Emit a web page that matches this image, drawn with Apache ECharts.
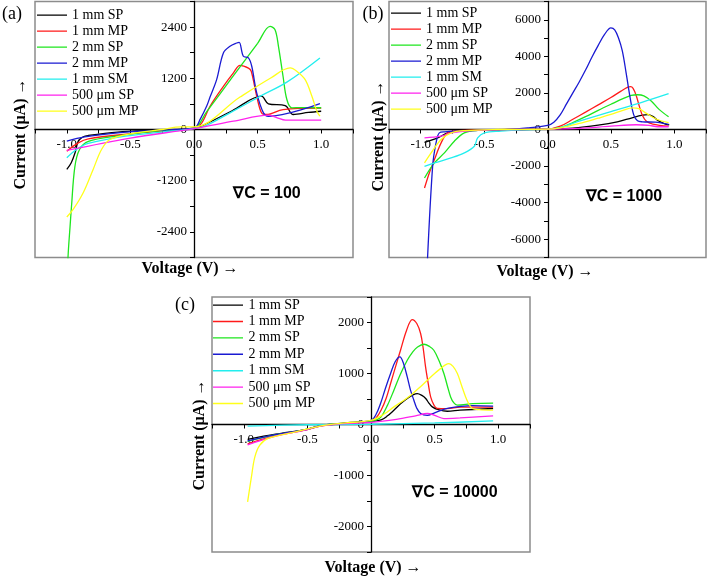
<!DOCTYPE html>
<html><head><meta charset="utf-8">
<script src="https://cdn.jsdelivr.net/npm/echarts@6/dist/echarts.min.js"></script>
<style>html,body{margin:0;padding:0;background:#fff}#c{width:709px;height:578px}</style>
</head><body><div id="c"></div>
<script>
// ---- legend / series names ----
const NAMES = ['1 mm SP','1 mm MP','2 mm SP','2 mm MP','1 mm SM','500 μm SP','500 μm MP'];
// ---- tick labels ----
const X_TICKS = [-1.0,-0.5,0.0,0.5,1.0];
const Y_TICKS_A = [-2400,-1200,0,1200,2400];
const Y_TICKS_B = [-6000,-4000,-2000,0,2000,4000,6000];
const Y_TICKS_C = [-2000,-1000,0,1000,2000];

// ---- panel (a): ∇C = 100 ----  [voltage V, current μA]
const A_1MM_SP = [[-1.0,-936],[-0.965,-780],[-0.935,-546],[-0.91,-273],[-0.87,-170],[-0.83,-140],[-0.6,-62],[-0.3,-15],[0,30],[0.1,140],[0.3,440],[0.53,780],[0.585,601],[0.717,562],[0.78,351],[0.9,400],[1.0,428]];
const A_1MM_MP = [[-1.0,-507],[-0.91,-312],[-0.83,-218],[-0.5,-100],[-0.2,-20],[0,30],[0.06,150],[0.126,545],[0.231,1013],[0.31,1327],[0.362,1505],[0.428,1440],[0.45,1365],[0.493,780],[0.533,380],[0.57,351],[0.7,468],[1.0,500]];
const A_2MM_SP = [[-1.0,-3800],[-0.99,-2965],[-0.975,-2300],[-0.963,-1800],[-0.937,-880],[-0.9,-470],[-0.83,-280],[-0.6,-150],[-0.3,-40],[0,30],[0.1,420],[0.3,1220],[0.5,2020],[0.598,2417],[0.637,2340],[0.664,1950],[0.7,1248],[0.73,702],[0.769,507],[0.85,515],[1.0,510]];
const A_2MM_MP = [[-1.0,-273],[-0.86,-172],[-0.6,-78],[-0.3,-20],[0,30],[0.05,250],[0.1,550],[0.126,760],[0.178,1170],[0.231,1794],[0.283,1950],[0.336,2028],[0.355,2043],[0.388,1716],[0.428,1678],[0.454,1482],[0.493,858],[0.546,390],[0.585,311],[0.99,608]];
const A_1MM_SM = [[-1.0,-663],[-0.924,-468],[-0.832,-328],[-0.54,-156],[-0.25,-60],[0,20],[0.1,100],[0.3,420],[0.533,800],[0.73,1110],[0.99,1678]];
const A_500_SP = [[-1.0,-490],[-0.5,-200],[0,20],[0.31,195],[0.585,335],[0.65,280],[0.72,218],[1.0,218]];
const A_500_MP = [[-1.0,-2050],[-0.95,-1872],[-0.871,-1482],[-0.793,-936],[-0.727,-468],[-0.661,-234],[-0.5,-100],[-0.25,0],[-0.1,60],[0,60],[0.362,760],[0.6,1200],[0.756,1444],[0.808,1365],[0.874,1170],[0.927,780],[0.966,429],[0.99,311]];

// ---- panel (b): ∇C = 1000 ----
const B_1MM_SP = [[-0.97,-700],[-0.866,-458],[-0.787,-183],[-0.7,-80],[-0.5,-30],[-0.2,0],[0,20],[0.2,80],[0.4,240],[0.55,420],[0.667,640],[0.75,780],[0.79,810],[0.83,720],[0.87,500],[0.92,320],[0.96,250]];
const B_1MM_MP = [[-0.97,-3200],[-0.932,-2377],[-0.892,-1647],[-0.839,-730],[-0.787,-183],[-0.7,-60],[-0.4,-10],[0,20],[0.1,180],[0.2,560],[0.3,950],[0.4,1350],[0.5,1750],[0.58,2100],[0.63,2300],[0.655,2340],[0.675,2250],[0.7,1850],[0.725,1250],[0.75,750],[0.78,450],[0.83,300],[0.955,180]];
const B_2MM_SP = [[-0.97,-2652],[-0.892,-1830],[-0.813,-1281],[-0.735,-640],[-0.656,-183],[-0.55,-50],[-0.3,0],[0,20],[0.1,100],[0.2,380],[0.3,700],[0.4,1050],[0.5,1380],[0.6,1700],[0.66,1860],[0.71,1900],[0.76,1840],[0.82,1550],[0.88,1100],[0.955,700]];
const B_2MM_MP = [[-0.95,-7640],[-0.906,-2015],[-0.879,-730],[-0.853,-183],[-0.81,-128],[-0.6,-60],[-0.3,0],[-0.15,90],[0,220],[0.05,400],[0.1,800],[0.15,1400],[0.2,2000],[0.25,2600],[0.3,3250],[0.35,3950],[0.4,4600],[0.45,5200],[0.5,5560],[0.53,5450],[0.56,5000],[0.59,4300],[0.62,3100],[0.65,1800],[0.68,800],[0.71,480],[0.75,420],[0.85,400],[0.955,280]];
const B_1MM_SM = [[-0.97,-2015],[-0.892,-1830],[-0.761,-1556],[-0.656,-1281],[-0.577,-915],[-0.551,-458],[-0.498,-183],[-0.367,-90],[-0.2,-20],[0,20],[0.1,100],[0.25,456],[0.5,980],[0.75,1500],[0.955,1960]];
const B_500_SP = [[-0.97,-458],[-0.839,-366],[-0.76,-183],[-0.6,-60],[-0.3,0],[0,20],[0.25,60],[0.5,180],[0.7,260],[0.8,230],[0.87,150],[0.955,150]];
const B_500_MP = [[-0.97,-1830],[-0.918,-1281],[-0.839,-549],[-0.76,-183],[-0.65,-60],[-0.4,0],[0,20],[0.1,90],[0.25,330],[0.4,620],[0.5,823],[0.6,1060],[0.67,1180],[0.72,1140],[0.78,880],[0.86,560],[0.955,380]];

// ---- panel (c): ∇C = 10000 ----
const C_1MM_SP = [[-0.97,-290],[-0.75,-190],[-0.5,-90],[-0.4,-20],[-0.2,30],[0,60],[0.08,90],[0.13,170],[0.18,280],[0.23,400],[0.285,510],[0.33,580],[0.364,607],[0.4,570],[0.43,510],[0.455,420],[0.482,345],[0.53,290],[0.6,260],[0.7,280],[0.96,314]];
const C_1MM_MP = [[-0.97,-380],[-0.75,-220],[-0.5,-100],[-0.4,-30],[-0.2,20],[0,60],[0.04,130],[0.079,280],[0.12,520],[0.154,804],[0.195,1150],[0.232,1456],[0.28,1850],[0.324,2058],[0.36,1980],[0.39,1784],[0.41,1500],[0.429,1129],[0.45,800],[0.469,541],[0.495,380],[0.521,314],[0.6,310],[0.7,340],[0.96,340]];
const C_2MM_SP = [[-0.97,-330],[-0.75,-200],[-0.5,-95],[-0.4,-25],[-0.2,25],[0,60],[0.04,90],[0.079,150],[0.13,380],[0.18,672],[0.23,980],[0.285,1260],[0.33,1430],[0.366,1521],[0.416,1574],[0.46,1530],[0.494,1456],[0.535,1250],[0.573,1000],[0.6,760],[0.626,541],[0.65,430],[0.679,378],[0.8,410],[0.96,420]];
const C_2MM_MP = [[-0.97,-320],[-0.75,-200],[-0.5,-95],[-0.4,-25],[-0.2,25],[0,80],[0.04,200],[0.075,412],[0.115,720],[0.154,1000],[0.19,1230],[0.227,1325],[0.255,1200],[0.285,933],[0.31,680],[0.337,476],[0.36,320],[0.39,216],[0.442,180],[0.5,230],[0.6,314],[0.8,370],[0.96,359]];
const C_1MM_SM = [[-0.97,-30],[-0.5,-5],[0,5],[0.5,30],[0.96,70]];
const C_500_SP = [[-0.97,-400],[-0.75,-230],[-0.5,-100],[-0.4,-30],[-0.2,20],[0,40],[0.2,100],[0.35,170],[0.443,216],[0.5,180],[0.573,117],[0.7,130],[0.96,169]];
const C_500_MP = [[-0.97,-1517],[-0.94,-1027],[-0.913,-635],[-0.874,-406],[-0.809,-274],[-0.6,-150],[-0.4,-30],[-0.2,30],[0,80],[0.1,200],[0.18,345],[0.25,460],[0.313,574],[0.38,720],[0.443,868],[0.5,1000],[0.547,1097],[0.585,1170],[0.613,1195],[0.645,1140],[0.679,1000],[0.71,780],[0.744,541],[0.77,400],[0.797,314],[0.85,290],[0.96,280]];

const PANEL_A = [A_1MM_SP,A_1MM_MP,A_2MM_SP,A_2MM_MP,A_1MM_SM,A_500_SP,A_500_MP];
const PANEL_B = [B_1MM_SP,B_1MM_MP,B_2MM_SP,B_2MM_MP,B_1MM_SM,B_500_SP,B_500_MP];
const PANEL_C = [C_1MM_SP,C_1MM_MP,C_2MM_SP,C_2MM_MP,C_1MM_SM,C_500_SP,C_500_MP];

const COLORS = ['#000000','#ff1a1a','#1ee61e','#1a1ad2','#22eeee','#ff22ee','#ffff1a'];
const SERIF = 'Liberation Serif';
const SANS = 'Liberation Sans';

const chart = echarts.init(document.getElementById('c'), null, {renderer:'canvas'});

const grids = [
  {left:35, top:1.5, width:318, height:256},
  {left:389, top:1.5, width:318, height:256},
  {left:212, top:297, width:318, height:255}
];
const X_RANGE = [-1.25, 1.25, 0.25];
const yRanges = [[-3000,3000,600,Y_TICKS_A],[-7000,7000,1000,Y_TICKS_B],[-2500,2500,500,Y_TICKS_C]];

function near(v, list){ return list.some(t => Math.abs(t - v) < 1e-6); }

// the axes are drawn through the origin: shift them inward by the pixel distance to zero
const xAxes = grids.map((g,i)=>({
  type:'value', gridIndex:i, min:X_RANGE[0], max:X_RANGE[1], interval:X_RANGE[2],
  position:'bottom',
  offset: -g.height * (0 - yRanges[i][0]) / (yRanges[i][1] - yRanges[i][0]),
  axisLine:{onZero:false, lineStyle:{color:'#000', width:1.3}},
  axisTick:{show:true, inside:false, length:4, lineStyle:{color:'#000'}},
  splitLine:{show:false},
  axisLabel:{fontFamily:SERIF, fontSize:13, color:'#000', margin:9,
    formatter:v => near(v, X_TICKS) ? v.toFixed(1) : ''}
}));
const yAxes = grids.map((g,i)=>({
  type:'value', gridIndex:i, min:yRanges[i][0], max:yRanges[i][1], interval:yRanges[i][2],
  position:'left',
  offset: -g.width * (0 - X_RANGE[0]) / (X_RANGE[1] - X_RANGE[0]),
  axisLine:{onZero:false, lineStyle:{color:'#000', width:1.3}},
  axisTick:{show:true, inside:false, length:4, lineStyle:{color:'#000'}},
  splitLine:{show:false},
  axisLabel:{fontFamily:SERIF, fontSize:13, color:'#000', margin:7,
    formatter:v => near(v, yRanges[i][3]) ? String(v) : ''}
}));

const series = [];
[PANEL_A, PANEL_B, PANEL_C].forEach((panel, pi)=>{
  panel.forEach((data, si)=>{
    series.push({
      type:'line', name:NAMES[si], xAxisIndex:pi, yAxisIndex:pi,
      data:data, showSymbol:false, symbol:'none', smooth:0.35,
      clip:true, lineStyle:{color:COLORS[si], width:1.3}, itemStyle:{color:COLORS[si]},
      animation:false, z:2+si
    });
  });
});

// thin horizontal bar icon (tiny corner dots fix the icon's bounding box)
const LINE_ICON = 'path://M0,0h0.01v0.01h-0.01z M0,6.4h30v1.4h-30z M29.99,13.99h0.01v0.01h-0.01z';
const legendBase = {
  orient:'vertical', data:NAMES, padding:0, itemHeight:14, itemGap:2, icon:LINE_ICON,
  textStyle:{fontFamily:SERIF, fontSize:14, color:'#000'}, selectedMode:false
};
const legends = [
  Object.assign({}, legendBase, {left:37, top:8, itemWidth:30}),
  Object.assign({}, legendBase, {left:391, top:6, itemWidth:30}),
  Object.assign({}, legendBase, {left:213, top:298, itemWidth:31, itemGap:2.4})
];

function txt(x, y, s, opts){
  return Object.assign({type:'text', x:x, y:y, silent:true,
    style:Object.assign({text:s, fill:'#000', align:'center', verticalAlign:'middle'}, opts.style)}, opts.el||{});
}
const graphic = [
  txt(12,14,'(a)',{style:{font:'18px '+SERIF}}),
  txt(373,14,'(b)',{style:{font:'18px '+SERIF}}),
  txt(185,305,'(c)',{style:{font:'18px '+SERIF}}),
  txt(21,134,'Current (μA) →',{style:{font:'bold 16px '+SERIF}, el:{rotation:Math.PI/2}}),
  txt(379,136,'Current (μA) →',{style:{font:'bold 16px '+SERIF}, el:{rotation:Math.PI/2}}),
  txt(200,435,'Current (μA) →',{style:{font:'bold 16px '+SERIF}, el:{rotation:Math.PI/2}}),
  txt(190,269,'Voltage (V) →',{style:{font:'bold 16px '+SERIF}}),
  txt(545,272,'Voltage (V) →',{style:{font:'bold 16px '+SERIF}}),
  txt(373,568,'Voltage (V) →',{style:{font:'bold 16px '+SERIF}}),
  txt(267,194,'∇C = 100',{style:{font:'bold 16px '+SANS}}),
  txt(624,197,'∇C = 1000',{style:{font:'bold 16px '+SANS}}),
  txt(455,493,'∇C = 10000',{style:{font:'bold 16px '+SANS}})
];

chart.setOption({
  animation:false,
  backgroundColor:'#fff',
  grid:grids.map(g=>Object.assign({show:true, borderColor:'#8c8c8c', borderWidth:1.5, containLabel:false}, g)),
  xAxis:xAxes, yAxis:yAxes, legend:legends, series:series, graphic:graphic
});
</script></body></html>
